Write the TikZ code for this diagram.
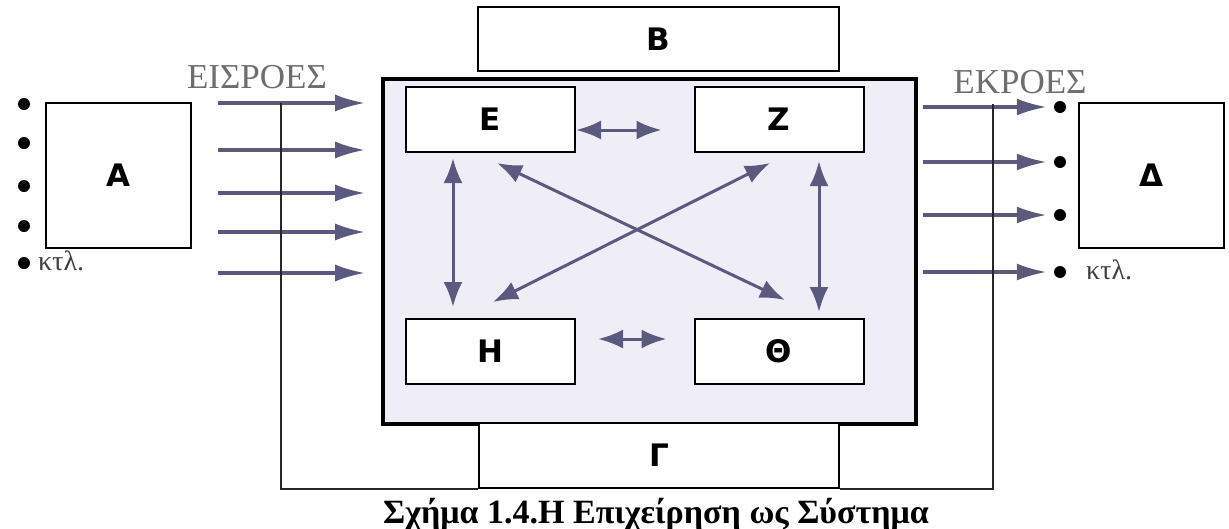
\documentclass[tikz,border=0pt]{standalone}
\usepackage{fontspec}
\setmainfont{Liberation Serif}
\newfontfamily\boxfont{DejaVu Sans}
\usepackage{xcolor}
\usetikzlibrary{arrows.meta}

\begin{document}
\begin{tikzpicture}[x=1pt,y=-1pt,
  box/.style={draw,fill=white,line width=2pt,inner sep=0pt,font=\boxfont\bfseries\fontsize{31}{31}\selectfont},
  blob/.style={circle,fill=black,minimum size=12pt,inner sep=0pt},
  flow/.style={draw=arrowcol,line width=3.4pt,-{Latex[length=30pt,width=17pt]}},
  link/.style={draw=arrowcol,line width=3pt,{Latex[length=25pt,width=19pt]}-{Latex[length=25pt,width=19pt]}},
  loopline/.style={draw=black!85,line width=2.8pt},
  tag/.style={text=labelgray,anchor=base,font=\fontsize{35}{35}\selectfont},
  etc/.style={text=black!75,anchor=base west,inner sep=0pt,font=\fontsize{28}{28}\selectfont}]
\definecolor{arrowcol}{HTML}{5B5A7E}
\definecolor{sysfill}{HTML}{EFEEF6}
\definecolor{labelgray}{HTML}{6E6E6E}
\useasboundingbox (0,0) rectangle (1229,528);
\node [draw,line width=3.6pt,fill=sysfill,minimum width=533pt,minimum height=345pt] (sys) at (649.5,251.5) {};
\node [box,minimum width=145pt,minimum height=145pt] (A) at (118.5,175.5) {Α};
\node [box,minimum width=145pt,minimum height=145pt] (D) at (1151.5,175.5) {Δ};
\node [box,minimum width=361pt,minimum height=64pt] (B) at (658.5,39) {Β};
\node [box,minimum width=360pt,minimum height=65pt] (G) at (659,455.5) {Γ};
\foreach \nm/\lbl/\px/\py in {E/Ε/490.5/119.5,Z/Ζ/779/119.5,H/Η/490.5/351.5,T/Θ/779/351.5}
  {\node [box,minimum width=169pt,minimum height=65pt] (\nm) at (\px,\py) {\lbl};}
\node [tag] (inlbl) at (257,88) {ΕΙΣΡΟΕΣ};
\node [tag] (outlbl) at (1020,93) {ΕΚΡΟΕΣ};
\foreach \i/\py in {1/104,2/143,3/186,4/226,5/263}
  {\node [blob] (dotL\i) at (24,\py) {};}
\node [etc] (etcL) at (38,270) {κτλ.};
\foreach \i/\py in {1/103,2/150,3/193,4/232,5/273}
  {\coordinate (in\i) at (218,\py);
   \draw [flow,shorten >=16pt] (in\i) -- (in\i -| sys.west);}
\foreach \i/\py in {1/107,2/162,3/215,4/272}
  {\node [blob] (dotR\i) at (1060,\py) {};
   \draw [flow,shorten <=5pt,shorten >=7pt] (sys.east |- dotR\i) -- (dotR\i);}
\node [etc] (etcR) at (1086,279) {κτλ.};
\coordinate (fbL) at (281,103);
\coordinate (fbR) at (993,104);
\draw [loopline] (fbL) |- (G.south west) (fbR) |- (G.south east);
\draw [link,shorten >=32pt] ([yshift=-10.5pt]E.east) -- ([yshift=-10.5pt]Z.west);
\draw [link,shorten <=22pt,shorten >=27pt] ([yshift=12.5pt]H.east) -- ([yshift=12.5pt]T.west);
\draw [link,shorten <=5pt,shorten >=11pt] ([xshift=-37.5pt]E.south) -- ([xshift=-37.5pt]H.north);
\draw [link,shorten <=8pt,shorten >=6pt] ([xshift=40pt]Z.south) -- ([xshift=40pt]T.north);
\draw [link] ([shift={(6.5,10)}]E.south) -- ([shift={(6,-18)}]T.north);
\draw [link] ([shift={(-9,10)}]Z.south) -- ([shift={(2.5,-16)}]H.north);
\node [anchor=base,font=\bfseries\fontsize{34}{34}\selectfont] (caption) at (656,523) {Σχήμα 1.4.Η Επιχείρηση ως Σύστημα};
\end{tikzpicture}
\end{document}
